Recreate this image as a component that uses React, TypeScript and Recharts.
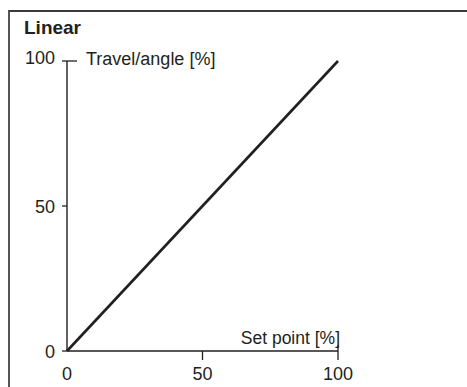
import React from "react";
import { LineChart, Line, XAxis, YAxis, Label } from "recharts";

const setPoint = [0, 100];
const travel = [0, 100];
const xTicks = [0, 50, 100];
const yTicks = [0, 50, 100];
const title = "Linear";
const yLabel = "Travel/angle [%]";
const xLabel = "Set point [%]";

const data = setPoint.map((s, i) => ({ s, t: travel[i] }));

const FONT = "'Liberation Sans', Arial, sans-serif";
const INK = "#231f20";
const TS = 5;
const TM = 4;

const YTick = (props: any) => {
  const { x, y, payload } = props;
  const ax = x + TS + TM;
  const top = payload.value === yTicks[yTicks.length - 1];
  return (
    <g>
      <line x1={ax - 5} x2={top ? ax + 10 : ax} y1={y} y2={y} stroke={INK} strokeWidth={1.3} />
      <text x={ax - 12} y={y + (top ? 3 : 7)} textAnchor="end" fontSize={18} fill={INK} fontFamily={FONT}>
        {payload.value}
      </text>
    </g>
  );
};

const XTick = (props: any) => {
  const { x, y, payload } = props;
  const ay = y - TS - TM;
  const last = payload.value === xTicks[xTicks.length - 1];
  return (
    <g>
      {payload.value !== xTicks[0] && (
        <line x1={x} x2={x} y1={last ? ay - 6 : ay} y2={ay + 9} stroke={INK} strokeWidth={1.3} />
      )}
      <text x={x} y={ay + 29} textAnchor="middle" fontSize={18} fill={INK} fontFamily={FONT}>
        {payload.value}
      </text>
    </g>
  );
};

export default function App() {
  return (
    <div style={{ position: "absolute", left: 0, top: 0, width: 467, height: 387, background: "#fff", overflow: "hidden" }}>
      <div
        style={{
          position: "absolute",
          left: 8,
          top: 10,
          width: 470,
          height: 400,
          borderTop: "2px solid #3a3a3a",
          borderLeft: "2px solid #555",
        }}
      />
      <div
        style={{
          position: "absolute",
          left: 24,
          top: 17,
          fontFamily: FONT,
          fontWeight: "bold",
          fontSize: 19,
          color: INK,
          lineHeight: "22px",
        }}
      >
        {title}
      </div>
      <div style={{ position: "absolute", left: 0, top: 0 }}>
        <LineChart width={467} height={387} data={data} margin={{ top: 61, right: 129, bottom: 6, left: 7 }}>
          <XAxis
            dataKey="s"
            type="number"
            domain={[0, 100]}
            ticks={xTicks}
            height={30}
            tickSize={TS}
            tickMargin={TM}
            tickLine={false}
            axisLine={{ stroke: INK, strokeWidth: 1.4 }}
            tick={<XTick />}
          >
            <Label
              content={(p: any) => {
                const vb = p.viewBox;
                return (
                  <text x={vb.x + vb.width + 2} y={vb.y - 7} textAnchor="end" fontSize={17.5} fill={INK} fontFamily={FONT}>
                    {xLabel}
                  </text>
                );
              }}
            />
          </XAxis>
          <YAxis
            type="number"
            domain={[0, 100]}
            ticks={yTicks}
            width={60}
            tickSize={TS}
            tickMargin={TM}
            tickLine={false}
            axisLine={{ stroke: INK, strokeWidth: 1.4 }}
            tick={<YTick />}
          >
            <Label
              content={(p: any) => {
                const vb = p.viewBox;
                return (
                  <text x={vb.x + vb.width + 19} y={vb.y + 4} textAnchor="start" fontSize={18} fill={INK} fontFamily={FONT}>
                    {yLabel}
                  </text>
                );
              }}
            />
          </YAxis>
          <Line dataKey="t" type="linear" stroke={INK} strokeWidth={2.6} dot={false} isAnimationActive={false} />
        </LineChart>
      </div>
    </div>
  );
}
